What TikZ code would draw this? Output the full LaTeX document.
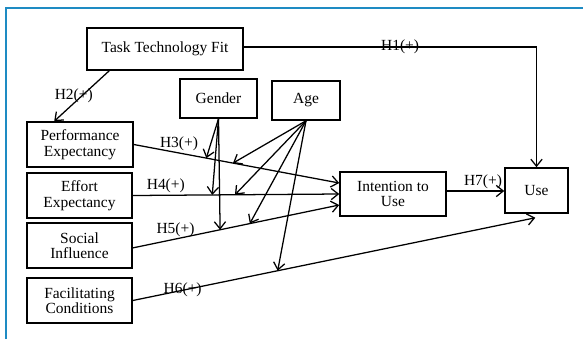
\documentclass[tikz,border=0pt]{standalone}
\usepackage{fontspec}
\setmainfont{Liberation Serif}
\usetikzlibrary{arrows.meta}
\definecolor{frameblue}{RGB}{30,139,195}

\begin{document}
\begin{tikzpicture}[line width=0.9pt,>={Straight Barb[length=5pt,width=8pt]},
  box/.style ={draw,line width=1.1pt,align=center,inner sep=0pt,font=\fontsize{11}{11}\selectfont},
  hyp/.style ={font=\fontsize{11}{11}\selectfont,inner sep=1pt}]

\useasboundingbox (0,0) rectangle (14.575,-8.475);
\draw [frameblue,line width=1.5pt] (0.15,-8.475) -- (0.15,-0.2) -- (14.575,-0.2);

\node[box,minimum width=3.9cm,minimum height=1.05cm] (ttf) at (4.125,-1.225) {Task Technology Fit};
\node[box,minimum width=1.925cm,minimum height=0.975cm] (gender) at (5.4625,-2.4625) {Gender};
\node[box,minimum width=1.7cm,minimum height=0.975cm] (age) at (7.65,-2.5125) {Age};

\node[box,minimum width=2.65cm,minimum height=1.125cm] (pe) at (2.0,-3.6125) {Performance\\Expectancy};
\node[box,minimum width=2.625cm,minimum height=1.125cm] (ee) at (1.9875,-4.8875) {Effort\\Expectancy};
\node[box,minimum width=2.625cm,minimum height=1.125cm] (si) at (1.9875,-6.1375) {Social\\Influence};
\node[box,minimum width=2.625cm,minimum height=1.125cm] (fc) at (1.9875,-7.5125) {Facilitating\\Conditions};

\node[box,minimum width=2.65cm,minimum height=1.1cm] (itu) at (9.825,-4.85) {Intention to\\Use};
\node[box,minimum width=1.575cm,minimum height=1.125cm] (use) at (13.4125,-4.7625) {Use};

%hypotheses
\draw [->] ([yshift=0.05cm]ttf.east) -| node[hyp,pos=0.267] {H1(+)} (use.north);
\draw [->] ([xshift=0.575cm]ttf.south west) -- node[hyp,pos=0.5,xshift=-0.2cm] {H2(+)} ([xshift=0.7cm]pe.north west);
\draw [->] (pe.east) -- node[hyp,pos=0.22,above] {H3(+)} coordinate[pos=0.353] (h3g) coordinate[pos=0.483] (h3a) ([yshift=0.275cm]itu.west);
\draw [->] (ee.east) -- node[hyp,pos=0.16,above] {H4(+)} coordinate[pos=0.385] (h4g) coordinate[pos=0.495] (h4a) (itu.west);
\draw [->] ([yshift=-0.06cm]si.east) -- node[hyp,pos=0.207,above] {H5(+)} coordinate[pos=0.423] (h5g) coordinate[pos=0.567] (h5a) ([yshift=-0.275cm]itu.west);
\draw [->] (fc.east) -- node[hyp,pos=0.124] {H6(+)} coordinate[pos=0.36] (h6a) ([xshift=-0.03cm,yshift=-0.1cm]use.south);
\draw [->] ([yshift=0.075cm]itu.east) -- node[hyp,pos=0.63,above] {H7(+)} ([yshift=0.075cm]itu.east -| use.west);

%moderators
\draw [->] (gender.south) -- (h3g);
\draw [->] (gender.south) -- (h4g);
\draw [->] (gender.south) -- (h5g);
\draw [->] (age.south) -- (h3a);
\draw [->] (age.south) -- (h4a);
\draw [->] (age.south) -- (h5a);
\draw [->] (age.south) -- (h6a);
\end{tikzpicture}
\end{document}
